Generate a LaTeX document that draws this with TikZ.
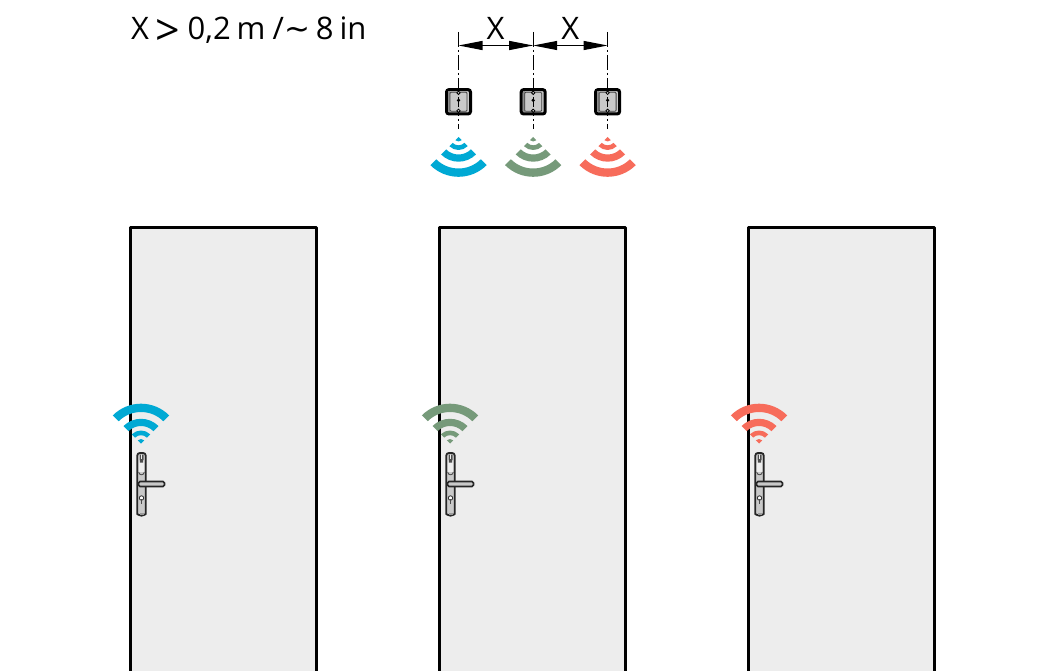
\documentclass[tikz,border=0pt]{standalone}
\usepackage{fontspec}
\setmainfont{Open Sans}
\newfontfamily\symfont{DejaVu Sans}
\usetikzlibrary{arrows.meta,calc}
\definecolor{cblue}{HTML}{00A9D4}
\definecolor{cgreen}{HTML}{769A7A}
\definecolor{cred}{HTML}{F76C5B}
\definecolor{doorfill}{HTML}{EDEDED}
\definecolor{metal}{HTML}{C9C9C9}
\tikzset{
  doorbox/.style={draw=black,line width=3pt,fill=doorfill,line join=round},
  centerline/.style={draw=black,line width=1.3pt,dash pattern=on 15pt off 3pt on 2pt off 3pt},
  dimline/.style={draw=black,line width=1.1pt,{Triangle[length=24pt,width=9pt]}-{Triangle[length=24pt,width=9pt]}},
  labeltext/.style={font=\fontsize{31}{34}\selectfont,inner sep=0pt,anchor=base},
  pics/wave/.style={code={
    \foreach \ra/\rb in {8.3/13,17.5/24.7,31.5/39.8}{
      \fill[#1] (-45:\ra pt) arc[start angle=-45,end angle=-135,radius=\ra pt]
        -- (-135:\rb pt) arc[start angle=-135,end angle=-45,radius=\rb pt] -- cycle;
    }
    \fill[#1] (0,0) -- (-45:4.5pt) arc[start angle=-45,end angle=-135,radius=4.5pt] -- cycle;
  }},
  pics/sensor/.style={code={
    \draw[black,line width=3pt,fill=metal,rounded corners=2.5pt] (-12,-12.2) rectangle (12,12.2);
    \fill[black!45] (-10.5,-10.5) rectangle (-8.5,10.5);
    \draw[black!75,line width=0.8pt,rounded corners=1pt] (-8.5,-9.5) rectangle (8.5,9.5);
    \draw[black,line width=1pt] (0,-5) -- (0,5);
    \fill[black] (0,-1.5) circle (1.8pt);
    \draw[black,line width=.8pt,fill=metal] (0,-9) circle (1.7pt) (0,9) circle (1.7pt);
  }},
  pics/handle/.style={code={
    \draw[black!85,line width=1.8pt,fill=metal,rounded corners=2.5pt] (-4.2,0) -- (4.2,0) -- (4.2,58.5) arc[start angle=0,end angle=-180,radius=4.2pt] -- cycle;
    \fill[doorfill] (-2.8,1.5) rectangle (2.8,19);
    \draw[black!75,line width=.8pt] (-2.8,19) arc[start angle=180,end angle=360,radius=2.8pt];
    \fill[black!70] (-2,1.5) rectangle (-.7,7) (.7,1.5) rectangle (2,7) (-1.7,6) rectangle (1.7,9.5);
    \draw[black!80,line width=.9pt,fill=white] (0,45) circle (2.2pt);
    \fill[black!70] (-.9,46) rectangle (.9,51);
    \draw[black!85,line width=1.7pt,fill=metal,rounded corners=1.5pt] (-3,28.5) rectangle (23,33.5);
    \fill[black!40] (-2,60) rectangle (2,62);
  }}
}
\begin{document}
\begin{tikzpicture}[x=1pt,y=-1pt]
\useasboundingbox (0,0) rectangle (1044,671);
\fill[white] (0,0) rectangle (1044,671);
% doors
\foreach \dx/\col in {0/cblue,309/cgreen,618/cred}{
  \begin{scope}[xshift=\dx pt]
    \path[doorbox] (130.7,672.5) -- (130.7,228) -- (316,228) -- (316,672.5);
    \pic at (141.5,453) {handle};
    \pic[yscale=-1] at (141,443.5) {wave=\col};
  \end{scope}
}
% mounted readers
\coordinate (a) at (458.5,45.5);
\coordinate (b) at (533.2,45.5);
\coordinate (c) at (607.6,45.5);
\foreach \p/\col in {a/cblue,b/cgreen,c/cred}{
  \draw[centerline] ($(\p)+(0,-13.5)$) -- ($(\p)+(0,84)$);
  \pic at ($(\p)+(0,56.3)$) {sensor};
  \pic at ($(\p)+(0,91.5)$) {wave=\col};
}
\draw[dimline] (a) -- (b);
\draw[dimline] (b) -- (c);
\node[labeltext] (xa) at (495.6,40) {X};
\node[labeltext] (xb) at (570.2,40) {X};
\node[labeltext,anchor=base west] (t) at (131,40) {X\kern6pt{\fontsize{43}{43}\selectfont\raisebox{-6pt}{>}}\kern8pt 0,2\kern6pt m\kern7pt /\kern1pt{\symfont\raisebox{0pt}{∼}}\kern5pt 8\kern6pt in};
\end{tikzpicture}
\end{document}
